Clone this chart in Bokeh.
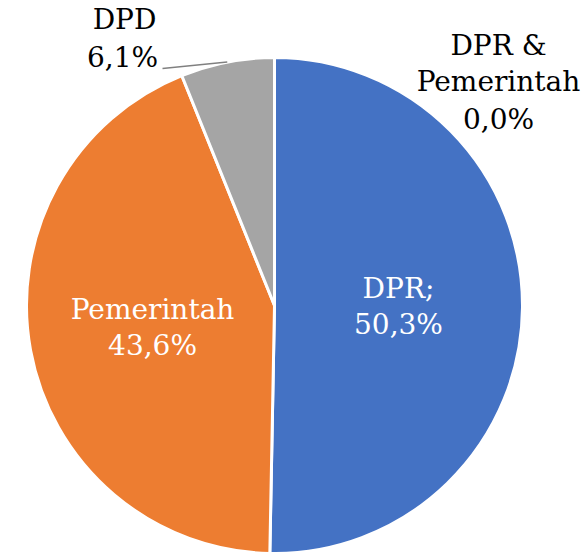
import math
from bokeh.plotting import figure
from bokeh.models import ColumnDataSource, Range1d
from bokeh.core.properties import value
from bokeh.embed import file_html
from bokeh.resources import INLINE

# Data
categories = ["DPR", "Pemerintah", "DPD", "DPR & Pemerintah"]
shares = [50.3, 43.6, 6.1, 0.0]
colors = ["#4472C4", "#ED7D31", "#A5A5A5", "#FFC000"]

W, H = 585, 552
p = figure(width=W, height=H, output_backend="svg", toolbar_location=None,
           x_range=Range1d(0, W), y_range=Range1d(0, H),
           min_border=0, outline_line_color=None)
p.axis.visible = False
p.grid.visible = False
p.background_fill_color = "white"
p.border_fill_color = "white"

cx, cy, R = 274, 247, 248
total = sum(shares)
starts, ends, mids, cols = [], [], [], []
acc = 0.0
for s, c in zip(shares, colors):
    a0 = math.pi / 2 - 2 * math.pi * acc / total
    acc += s
    a1 = math.pi / 2 - 2 * math.pi * acc / total
    mids.append((a0 + a1) / 2)
    if s > 0:
        starts.append(a0)
        ends.append(a1)
        cols.append(c)

src = ColumnDataSource(dict(start=starts, end=ends, color=cols,
                            x=[cx] * len(cols), y=[cy] * len(cols)))
p.wedge(x="x", y="y", radius=R, start_angle="start", end_angle="end",
        direction="clock", fill_color="color", line_color="white",
        line_width=3, source=src)

def fmt(v):
    return f"{v:.1f}%".replace(".", ",")

font = value("DejaVu Serif")
fs = "28px"

# inside labels
inside = [(0, categories[0] + ";"), (1, categories[1])]
for i, name in inside:
    lx = cx + 0.5 * R * math.cos(mids[i])
    ly = cy + 0.5 * R * math.sin(mids[i])
    p.text(x=[lx, lx], y=[ly + 18, ly - 18], text=[name, fmt(shares[i])],
           text_font=font, text_font_size=fs, text_color="white",
           text_align="center", text_baseline="middle")

# DPD outside label with leader line
ex = cx + R * math.cos(mids[2])
ey = cy + R * math.sin(mids[2])
p.line(x=[ex, 162], y=[ey, 484], line_color="#808080", line_width=1.5)
p.text(x=[124, 122], y=[533, 495], text=[categories[2], fmt(shares[2])],
       text_font=font, text_font_size=fs, text_color="black",
       text_align="center", text_baseline="middle")

# DPR & Pemerintah outside label
p.text(x=[498, 498, 498], y=[507, 471, 433],
       text=["DPR &", "Pemerintah", fmt(shares[3])],
       text_font=font, text_font_size=fs, text_color="black",
       text_align="center", text_baseline="middle")

open("out.html", "w").write(file_html(p, INLINE))
